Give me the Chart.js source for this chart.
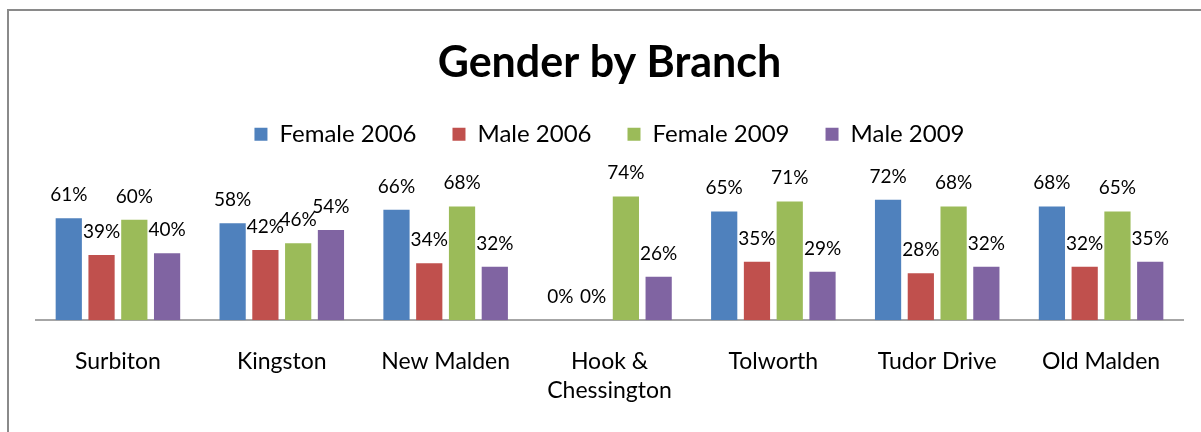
<!DOCTYPE html>
<html>
<head>
<meta charset="utf-8">
<script src="https://cdn.jsdelivr.net/npm/chart.js@4.4.1/dist/chart.umd.min.js"></script>
<style>
  html, body { margin: 0; padding: 0; background: #fff; overflow: hidden; }
  #contenedor { width: 1201px; height: 432px; }
</style>
</head>
<body>
<div id="contenedor"><canvas id="graficoSucursales"></canvas></div>
<script>
// Datos del gráfico
const sucursales = ['Surbiton', 'Kingston', 'New Malden', ['Hook &', 'Chessington'], 'Tolworth', 'Tudor Drive', 'Old Malden'];
const female2006 = [61, 58, 66, 0, 65, 72, 68];
const male2006 = [39, 42, 34, 0, 35, 28, 32];
const female2009 = [60, 46, 68, 74, 71, 68, 65];
const male2009 = [40, 54, 32, 26, 29, 32, 35];

const fuente = 'Lato, "Open Sans", sans-serif';

// Marco gris estilo Excel (solo arriba e izquierda, el resto queda fuera de la imagen)
const marco = {
  id: 'marco',
  beforeDraw(chart) {
    const ctx = chart.ctx;
    ctx.save();
    ctx.strokeStyle = '#8a8a8a';
    ctx.lineWidth = 2;
    ctx.beginPath();
    ctx.moveTo(1201, 10);
    ctx.lineTo(8, 10);
    ctx.lineTo(8, 432);
    ctx.stroke();
    ctx.restore();
  }
};

// Etiquetas de valor encima de cada barra
const etiquetas = {
  id: 'etiquetas',
  afterDatasetsDraw(chart) {
    const ctx = chart.ctx;
    ctx.save();
    ctx.font = '19px ' + fuente;
    ctx.fillStyle = '#000';
    ctx.textAlign = 'center';
    ctx.textBaseline = 'alphabetic';
    chart.data.datasets.forEach((ds, i) => {
      chart.getDatasetMeta(i).data.forEach((barra, j) => {
        ctx.fillText(ds.data[j] + '%', barra.x, barra.y - 17);
      });
    });
    ctx.restore();
  }
};

const ctx = document.getElementById('graficoSucursales').getContext('2d');
new Chart(ctx, {
  type: 'bar',
  data: {
    labels: sucursales,
    datasets: [
      { label: 'Female 2006', data: female2006, backgroundColor: '#4F81BD' },
      { label: 'Male 2006', data: male2006, backgroundColor: '#C0504D' },
      { label: 'Female 2009', data: female2009, backgroundColor: '#9BBB59' },
      { label: 'Male 2009', data: male2009, backgroundColor: '#8064A2' }
    ]
  },
  options: {
    responsive: true,
    maintainAspectRatio: false,
    animation: false,
    categoryPercentage: 0.8,
    barPercentage: 0.8,
    layout: { padding: { top: 0, left: 36, right: 18, bottom: 0 } },
    plugins: {
      title: {
        display: true,
        text: 'Gender by Branch',
        color: '#000',
        font: { family: fuente, size: 43, weight: 'bold', lineHeight: 1.1 },
        padding: { top: 39, bottom: 0 }
      },
      legend: {
        display: true,
        labels: {
          color: '#000',
          font: { family: fuente, size: 24 },
          boxWidth: 13,
          boxHeight: 13,
          padding: 36
        }
      },
      tooltip: { enabled: false }
    },
    scales: {
      x: {
        grid: { display: false, drawTicks: false },
        border: { display: true, color: '#a6a6a6', width: 2 },
        ticks: {
          color: '#000',
          font: { family: fuente, size: 23, lineHeight: 1.3 },
          padding: 26,
          maxRotation: 0,
          autoSkip: false
        }
      },
      y: {
        display: false,
        min: 0,
        max: 98
      }
    }
  },
  plugins: [marco, etiquetas]
});
</script>
</body>
</html>
